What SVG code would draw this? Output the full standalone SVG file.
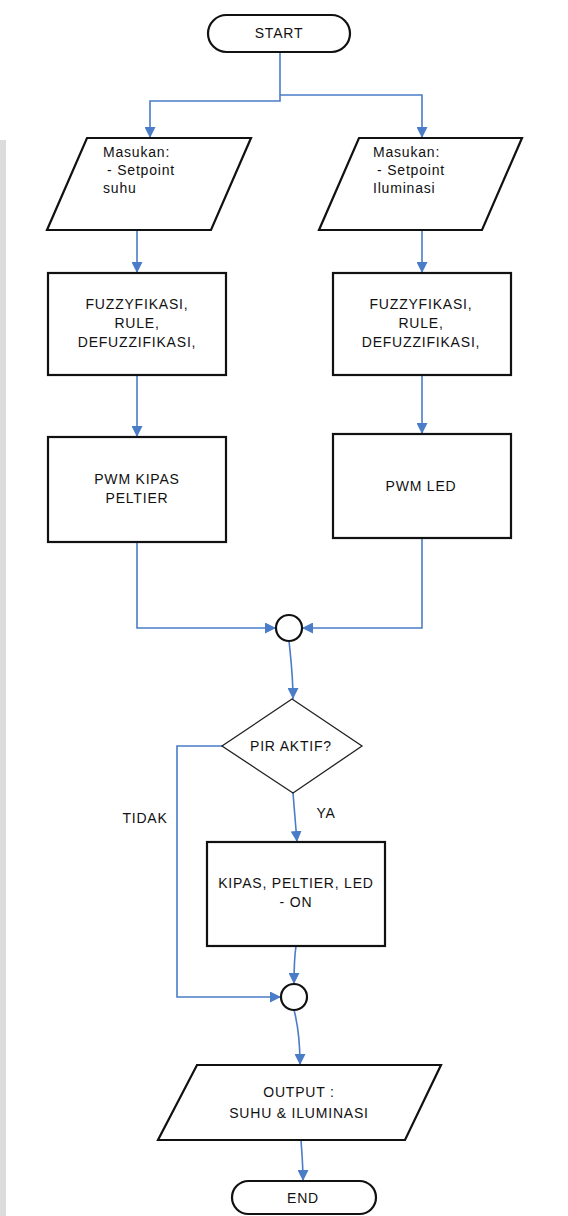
<svg xmlns="http://www.w3.org/2000/svg" width="568" height="1216" viewBox="0 0 568 1216">
<style>
text{font-family:"Liberation Sans",Arial,sans-serif;font-size:14px;fill:#111;letter-spacing:0.8px}
.c{text-anchor:middle}
.box{fill:#fff;stroke:#111;stroke-width:2.2}
.dia{fill:#fff;stroke:#222;stroke-width:1.3}
.con{fill:none;stroke:#4a7cc8;stroke-width:1.6}
</style>
<defs>
<marker id="ah" markerUnits="userSpaceOnUse" markerWidth="11" markerHeight="11" refX="11" refY="5.5" orient="auto">
<path d="M0,0 L11,5.5 L0,11 z" fill="#4a7cc8"/>
</marker>
</defs>
<rect width="568" height="1216" fill="#fff"/>
<rect x="0" y="140" width="6" height="1076" fill="#dcdcdc"/>
<g id="connectors">
<path class="con" d="M280,52 V101 H150 V138" marker-end="url(#ah)"/>
<path class="con" d="M280,95 H422 V138" marker-end="url(#ah)"/>
<path class="con" d="M137,230 V273" marker-end="url(#ah)"/>
<path class="con" d="M422,230 V273" marker-end="url(#ah)"/>
<path class="con" d="M137,375 V437" marker-end="url(#ah)"/>
<path class="con" d="M422,375 V434" marker-end="url(#ah)"/>
<path class="con" d="M137,542 V628 H276" marker-end="url(#ah)"/>
<path class="con" d="M422,538 V628 H302" marker-end="url(#ah)"/>
<path class="con" d="M289,641 C291,660 293,675 293,699" marker-end="url(#ah)"/>
<path class="con" d="M222,746 H177 V997 H281" marker-end="url(#ah)"/>
<path class="con" d="M293,793 L297,842" marker-end="url(#ah)"/>
<path class="con" d="M296,946 C294,960 294,970 294,984" marker-end="url(#ah)"/>
<path class="con" d="M294,1010 C298,1025 300,1040 300,1065" marker-end="url(#ah)"/>
<path class="con" d="M301,1140 C302,1155 303,1165 303,1181" marker-end="url(#ah)"/>
</g>
<g id="start">
<rect class="box" x="208" y="15" width="142" height="37" rx="18.5"/>
<text class="c" x="279" y="38">START</text>
</g>
<g id="input-suhu">
<polygon class="box" points="87,138 251,138 211,230 47,230"/>
<text x="103" y="157">Masukan:</text>
<text x="107" y="175">- Setpoint</text>
<text x="103" y="193">suhu</text>
</g>
<g id="input-iluminasi">
<polygon class="box" points="359,138 522,138 482,230 319,230"/>
<text x="373" y="157">Masukan:</text>
<text x="377" y="175">- Setpoint</text>
<text x="373" y="193">Iluminasi</text>
</g>
<g id="fuzzy-suhu">
<rect class="box" x="48" y="273" width="178" height="102"/>
<text class="c" x="137" y="309">FUZZYFIKASI,</text>
<text class="c" x="137" y="328">RULE,</text>
<text class="c" x="137" y="347">DEFUZZIFIKASI,</text>
</g>
<g id="fuzzy-iluminasi">
<rect class="box" x="333" y="273" width="178" height="102"/>
<text class="c" x="421" y="309">FUZZYFIKASI,</text>
<text class="c" x="421" y="328">RULE,</text>
<text class="c" x="421" y="347">DEFUZZIFIKASI,</text>
</g>
<g id="pwm-kipas">
<rect class="box" x="48" y="437" width="178" height="105"/>
<text class="c" x="137" y="484">PWM KIPAS</text>
<text class="c" x="137" y="503">PELTIER</text>
</g>
<g id="pwm-led">
<rect class="box" x="333" y="434" width="178" height="104"/>
<text class="c" x="421" y="491">PWM LED</text>
</g>
<g id="join1">
<circle class="box" cx="289" cy="628" r="13"/>
</g>
<g id="pir">
<polygon class="dia" points="292,699 362,746 293,793 222,746"/>
<text class="c" x="291" y="751">PIR AKTIF?</text>
</g>
<g id="labels">
<text class="c" x="145" y="823">TIDAK</text>
<text class="c" x="326" y="818">YA</text>
</g>
<g id="on">
<rect class="box" x="207" y="842" width="178" height="104"/>
<text class="c" x="296" y="888">KIPAS, PELTIER, LED</text>
<text class="c" x="296" y="907">- ON</text>
</g>
<g id="join2">
<circle class="box" cx="294" cy="997" r="13"/>
</g>
<g id="output">
<polygon class="box" points="197,1065 441,1065 405,1140 158,1140"/>
<text class="c" x="299" y="1097">OUTPUT :</text>
<text class="c" x="299" y="1118">SUHU &amp; ILUMINASI</text>
</g>
<g id="end">
<rect class="box" x="232" y="1181" width="144" height="33" rx="16.5"/>
<text class="c" x="303" y="1203">END</text>
</g>
</svg>
